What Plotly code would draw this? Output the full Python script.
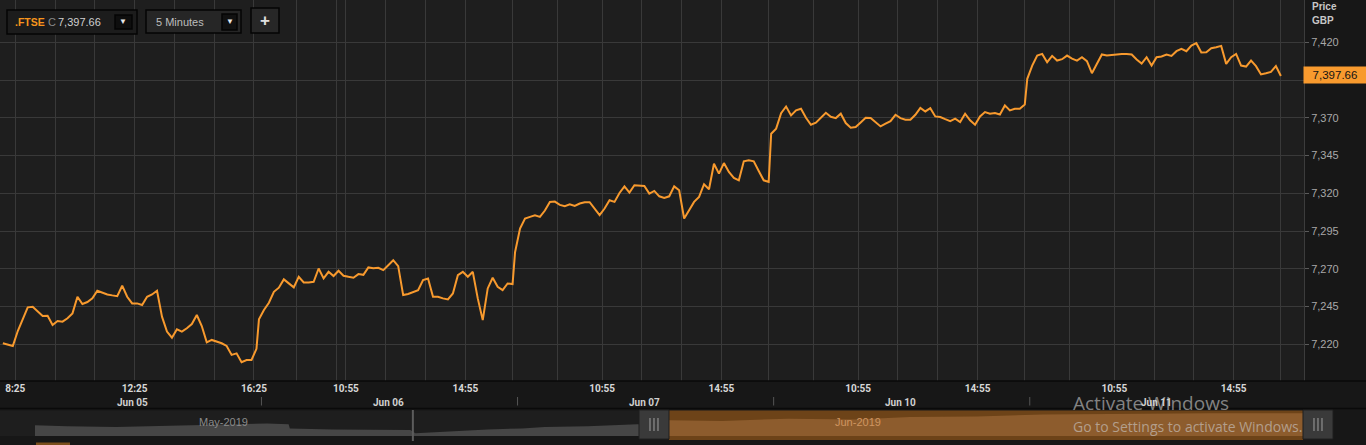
import plotly.graph_objects as go

# ---------------------------------------------------------------------------
# DATA  -  FTSE 100 (.FTSE), 5-minute chart; values read every 10 minutes
#          from 08:00 to 16:30 for each session
# ---------------------------------------------------------------------------
days = ["Jun 05", "Jun 06", "Jun 07", "Jun 10", "Jun 11"]
session_start_min = 8 * 60          # 08:00
bar_minutes = 5
bars_per_session = 103              # 08:00 ... 16:30
sample_every_bars = 2               # one value every 10 minutes

jun05 = [7220.7, 7219.6, 7218.9, 7228.8, 7237.2, 7244.5, 7244.9, 7241.6, 7238.7, 7238.9,
         7232.8, 7235.4, 7235.0, 7237.2, 7240.5, 7251.5, 7246.7, 7248.0, 7250.4, 7255.5,
         7254.1, 7253.0, 7252.4, 7251.9, 7258.8, 7251.5, 7247.1, 7247.1, 7246.0, 7251.5,
         7253.0, 7255.5, 7238.3, 7228.4, 7224.4, 7229.9, 7228.4, 7230.6, 7233.4, 7239.4,
         7232.1, 7221.3, 7222.9, 7221.8, 7220.7, 7218.9, 7213.0, 7214.0, 7208.1, 7209.6,
         7209.6, 7217.0]
jun06 = [7236.5, 7242.7, 7247.5, 7254.8, 7257.5, 7263.0, 7260.3, 7257.7, 7264.7, 7261.0,
         7261.0, 7261.4, 7270.2, 7263.6, 7268.0, 7265.2, 7268.7, 7265.4, 7264.7, 7264.1,
         7266.5, 7266.0, 7270.9, 7270.4, 7270.7, 7269.1, 7272.4, 7275.7, 7271.8, 7252.6,
         7253.3, 7254.8, 7255.9, 7262.5, 7263.6, 7251.5, 7251.5, 7250.4, 7249.7, 7253.7,
         7265.8, 7268.0, 7264.7, 7268.0, 7250.4, 7236.0, 7257.0, 7264.1, 7258.1, 7255.9,
         7260.3, 7259.9]
jun07 = [7281.0, 7296.7, 7303.3, 7304.4, 7305.5, 7304.4, 7308.6, 7314.3, 7314.5, 7312.3,
         7311.4, 7312.7, 7311.6, 7313.2, 7314.1, 7314.1, 7309.9, 7305.5, 7309.9, 7315.4,
         7314.3, 7320.2, 7324.6, 7320.5, 7325.3, 7325.3, 7324.9, 7319.8, 7321.6, 7318.0,
         7316.9, 7318.0, 7324.6, 7322.0, 7303.3, 7308.8, 7314.3, 7317.6, 7326.0, 7322.7,
         7339.6, 7333.0, 7340.0, 7334.1, 7330.2, 7328.6, 7341.2, 7341.8, 7341.2, 7334.8,
         7328.6, 7327.5]
jun10 = [7359.4, 7362.8, 7373.1, 7377.5, 7371.6, 7374.9, 7376.0, 7370.0, 7365.4, 7366.7,
         7370.0, 7373.3, 7370.7, 7369.8, 7372.7, 7366.5, 7363.4, 7363.9, 7366.9, 7370.0,
         7369.8, 7367.2, 7364.3, 7366.1, 7367.8, 7372.0, 7369.8, 7368.7, 7368.7, 7372.0,
         7376.6, 7374.2, 7376.4, 7370.9, 7370.5, 7369.1, 7367.8, 7369.4, 7367.2, 7372.7,
         7368.3, 7365.4, 7370.9, 7373.8, 7372.7, 7373.1, 7372.2, 7378.2, 7374.9, 7376.0,
         7376.0, 7378.8]
jun11 = [7395.8, 7404.6, 7411.2, 7412.3, 7406.8, 7411.0, 7407.9, 7408.8, 7411.2, 7409.2,
         7407.9, 7410.1, 7407.5, 7399.5, 7406.2, 7411.9, 7411.2, 7411.7, 7412.3, 7412.3,
         7412.3, 7411.9, 7408.6, 7405.9, 7410.1, 7404.6, 7410.1, 7410.6, 7411.9, 7411.0,
         7414.1, 7415.6, 7414.1, 7417.8, 7419.4, 7413.2, 7413.4, 7416.1, 7416.7, 7417.6,
         7405.7, 7410.1, 7412.3, 7404.6, 7403.9, 7407.9, 7404.2, 7398.7, 7399.5, 7400.4,
         7404.2, 7397.66]
last_price = 7397.66

# time-axis grid lines and the ones that carry a label
grid_times = [
    ["08:25", "09:45", "11:05", "12:25", "13:45", "15:05", "16:25"],
    ["09:15", "10:35", "10:55", "12:15", "13:35", "14:55", "16:30"],
    ["09:25", "10:55", "12:15", "13:35", "14:55", "16:30"],
    ["09:25", "10:55", "12:15", "13:35", "14:55", "16:30"],
    ["09:25", "10:55", "12:15", "13:35", "14:55", "16:30"],
]
labelled_times = [
    ["08:25", "12:25", "16:25"],
    ["10:55", "14:55"],
    ["10:55", "14:55"],
    ["10:55", "14:55"],
    ["10:55", "14:55"],
]
date_label_time = "12:20"
price_ticks = [7220, 7245, 7270, 7295, 7320, 7345, 7370, 7395, 7420]
hidden_price_tick = 7395

# navigator: trading-day position (0 = May 29 open ... 10 = Jun 11 close)
nav_months = ["May-2019", "Jun-2019"]
nav_month_break = 2.98
nav_hist_pos = [0, 0.25, 0.64, 1.04, 1.43, 1.83, 2.0, 2.01, 2.35, 2.62, 2.96,
                3.0, 3.14, 3.31, 3.57, 3.84, 4.02, 4.36, 4.63, 4.75, 5.0]
nav_hist_val = [7190, 7173, 7161, 7178, 7190, 7220, 7208, 7133, 7116, 7116, 7104,
                7047, 7064, 7092, 7116, 7133, 7161, 7173, 7190, 7208, 7208]
nav_sel_pos = [5.0, 5.42, 5.94, 6.47, 6.9, 7.43, 7.95, 8.48, 9.27, 10.0]
nav_sel_val = [7277, 7265, 7306, 7289, 7334, 7346, 7381, 7393, 7403, 7403]
nav_sel_range = [5.0, 10.0]

# ---------------------------------------------------------------------------
# helpers
# ---------------------------------------------------------------------------
W, H = 1366, 445
PLOT_W = 1304           # width of plotting area (right margin holds price axis)


def xp(px):
    return px / PLOT_W


def yp(py):
    return 1 - py / H


def tpos(day, hhmm):
    h, m = hhmm.split(":")
    minutes = int(h) * 60 + int(m)
    return day * bars_per_session + (minutes - session_start_min) / bar_minutes


def short(hhmm):
    h, m = hhmm.split(":")
    return f"{int(h)}:{m}"


series = [jun05, jun06, jun07, jun10, jun11]
xs, ys = [], []
for d, vals in enumerate(series):
    for k, v in enumerate(vals):
        xs.append(d * bars_per_session + k * sample_every_bars)
        ys.append(v)

tickvals, ticktext = [], []
for d, tlist in enumerate(grid_times):
    for t in tlist:
        tickvals.append(tpos(d, t))
        ticktext.append(short(t) if t in labelled_times[d] else "")

ORANGE = "#f89a2e"
GRID = "#393939"
FONT = "Liberation Sans, Arial, sans-serif"
NARROW = "Liberation Sans Narrow, Roboto, Liberation Sans, sans-serif"

fig = go.Figure()
fig.add_trace(go.Scatter(x=xs, y=ys, mode="lines",
                         line=dict(color=ORANGE, width=2), hoverinfo="skip",
                         xaxis="x", yaxis="y"))
fig.add_trace(go.Scatter(x=nav_hist_pos, y=nav_hist_val, mode="lines",
                         line=dict(width=0, color="#4a4a4a"), fill="tozeroy",
                         fillcolor="#464646", hoverinfo="skip",
                         xaxis="x2", yaxis="y2"))
fig.add_trace(go.Scatter(x=nav_sel_pos, y=nav_sel_val, mode="lines",
                         line=dict(width=0, color="#8d5c2d"), fill="tozeroy",
                         fillcolor="#8d5c2d", hoverinfo="skip",
                         xaxis="x2", yaxis="y2"))

nav_r0, nav_r1 = -0.276, 10.008


def nav_px(pos):
    return (pos - nav_r0) / (nav_r1 - nav_r0) * PLOT_W


shapes = []
# axis strip borders
for yy in (381, 408.5):
    shapes.append(dict(type="line", xref="paper", yref="paper", x0=0, x1=xp(W),
                       y0=yp(yy), y1=yp(yy), line=dict(color="#0a0a0a", width=1.5),
                       layer="above"))
# day separators in the date row
for d in range(1, len(days)):
    x = d * bars_per_session + 1
    shapes.append(dict(type="line", xref="x", yref="paper", x0=x, x1=x,
                       y0=yp(397), y1=yp(405.5), line=dict(color="#555555", width=1)))
# navigator selection band
shapes.append(dict(type="rect", xref="x2", yref="paper", x0=nav_sel_range[0],
                   x1=nav_sel_range[1], y0=yp(440), y1=yp(410.5),
                   fillcolor="#6d4318", line=dict(width=0), layer="below"))
# month break
shapes.append(dict(type="line", xref="x2", yref="paper", x0=nav_month_break,
                   x1=nav_month_break, y0=yp(441), y1=yp(410),
                   line=dict(color="#5c5c5c", width=2)))
# navigator handles
for edge, side in ((nav_sel_range[0], -1), (nav_sel_range[1], 1)):
    epx = nav_px(edge)
    x0, x1 = (epx - 30, epx) if side < 0 else (epx, epx + 30)
    shapes.append(dict(type="rect", xref="paper", yref="paper", x0=xp(x0), x1=xp(x1),
                       y0=yp(439), y1=yp(410), fillcolor="#3a3a3a",
                       line=dict(color="#202020", width=1), layer="above"))
    cx = (x0 + x1) / 2
    for off in (-4, 0, 4):
        shapes.append(dict(type="line", xref="paper", yref="paper",
                           x0=xp(cx + off), x1=xp(cx + off), y0=yp(431), y1=yp(418),
                           line=dict(color="#a0a0a0", width=1), layer="above"))
# small scroll thumb under navigator
shapes.append(dict(type="rect", xref="paper", yref="paper", x0=xp(36), x1=xp(70),
                   y0=yp(445), y1=yp(442.5), fillcolor="#7a4f1c", line=dict(width=0),
                   layer="above"))
# top-left controls
ctrl = [
    ((7, 10, 137, 34), "#1c1c1c"),
    ((115, 15, 132, 29), "#0e0e0e"),
    ((146, 10, 241, 33), "#262626"),
    ((222, 14, 237, 30), "#111111"),
    ((251, 8, 279, 33), "#272727"),
]
for (a, b, c, e), col in ctrl:
    shapes.append(dict(type="rect", xref="paper", yref="paper", x0=xp(a), x1=xp(c),
                       y0=yp(e), y1=yp(b), fillcolor=col,
                       line=dict(color="#050505", width=1.5), layer="above"))

ann = []


def text(px, py, s, size, color, anchor="left", weight="normal", family=FONT,
         **kw):
    ann.append(dict(x=xp(px), y=yp(py), xref="paper", yref="paper", text=s,
                    showarrow=False, xanchor=anchor, yanchor="middle",
                    font=dict(size=size, color=color, family=family, weight=weight),
                    **kw))


# date row
for d, name in enumerate(days):
    ann.append(dict(x=tpos(d, date_label_time), y=yp(402.5), xref="x", yref="paper",
                    text=name, showarrow=False, xanchor="center", yanchor="middle",
                    font=dict(size=10, color="#d0d0d0", family=NARROW, weight="bold")))
# price axis header and current-price badge
text(1310, 7, "Price", 10, "#c8c8c8", weight="bold")
text(1310, 21, "GBP", 10, "#c8c8c8", weight="bold")
ann.append(dict(x=xp(1335), y=yp(74.7), xref="paper", yref="paper",
                text=f"{last_price:,.2f}", showarrow=False, xanchor="center",
                yanchor="middle", bgcolor="#f89a2e", width=60, height=14, borderpad=1,
                font=dict(size=11.5, color="#141414", family=FONT)))
# controls text
text(13, 22, ".FTSE", 10.5, "#f7941d", weight="bold")
text(46, 22, "C", 11, "#8a8a8a")
text(56, 22, f"{last_price:,.2f}", 11, "#cfcfcf")
text(123.5, 22, "▼", 8, "#e8e8e8", anchor="center")
text(154, 21.5, "5 Minutes", 11, "#bdbdbd")
text(229.5, 22, "▼", 8, "#e8e8e8", anchor="center")
text(265, 20, "+", 17, "#e0e0e0", anchor="center", weight="bold")
# navigator month labels
text((nav_px(0) + nav_px(nav_month_break)) / 2, 422, nav_months[0], 11, "#8a8a8a",
     anchor="center")
text((nav_px(nav_month_break) + nav_px(10)) / 2, 422, nav_months[1], 11, "#cf9560",
     anchor="center")
# OS watermark visible in the screenshot
text(1071, 403, "Activate Windows", 19, "rgba(205,205,205,0.6)",
     family="Open Sans, Noto Sans, sans-serif")
text(1071, 426.5, "Go to Settings to activate Windows.", 14, "rgba(205,205,205,0.6)",
     family="Open Sans, Noto Sans, sans-serif")

fig.update_layout(
    template="none",
    width=W, height=H,
    margin=dict(l=0, r=W - PLOT_W, t=0, b=0, pad=0),
    paper_bgcolor="#171717",
    plot_bgcolor="#1e1e1e",
    showlegend=False,
    xaxis=dict(domain=[0, 1], range=[-1.15, 523.3], anchor="y",
               tickmode="array", tickvals=tickvals, ticktext=ticktext,
               showgrid=True, gridcolor=GRID, gridwidth=1, zeroline=False,
               showline=False, ticks="", tickangle=0, fixedrange=True,
               tickfont=dict(size=10, color="#d8d8d8", family=NARROW, weight="bold")),
    yaxis=dict(domain=[yp(381), 1], range=[7195.7, 7448], anchor="x", side="right",
               tickmode="array", tickvals=price_ticks,
               ticktext=["" if v == hidden_price_tick else f"{v:,}" for v in price_ticks],
               showgrid=True, gridcolor=GRID, gridwidth=1, zeroline=False,
               showline=True, linecolor="#3c3c3c", linewidth=1,
               ticks="outside", ticklen=4, tickcolor="#5a5a5a", fixedrange=True,
               tickfont=dict(size=11, color="#a8a8a8", family=FONT)),
    xaxis2=dict(domain=[0, 1], range=[nav_r0, nav_r1], anchor="y2", visible=False,
                fixedrange=True),
    yaxis2=dict(domain=[yp(436), yp(410.5)], range=[7000, 7450], anchor="x2",
                visible=False, fixedrange=True),
    shapes=shapes,
    annotations=ann,
)

fig.write_html("out.html", config={"displayModeBar": False},
               post_script="document.body.style.margin='0';"
                           "document.body.style.background='#171717';")
